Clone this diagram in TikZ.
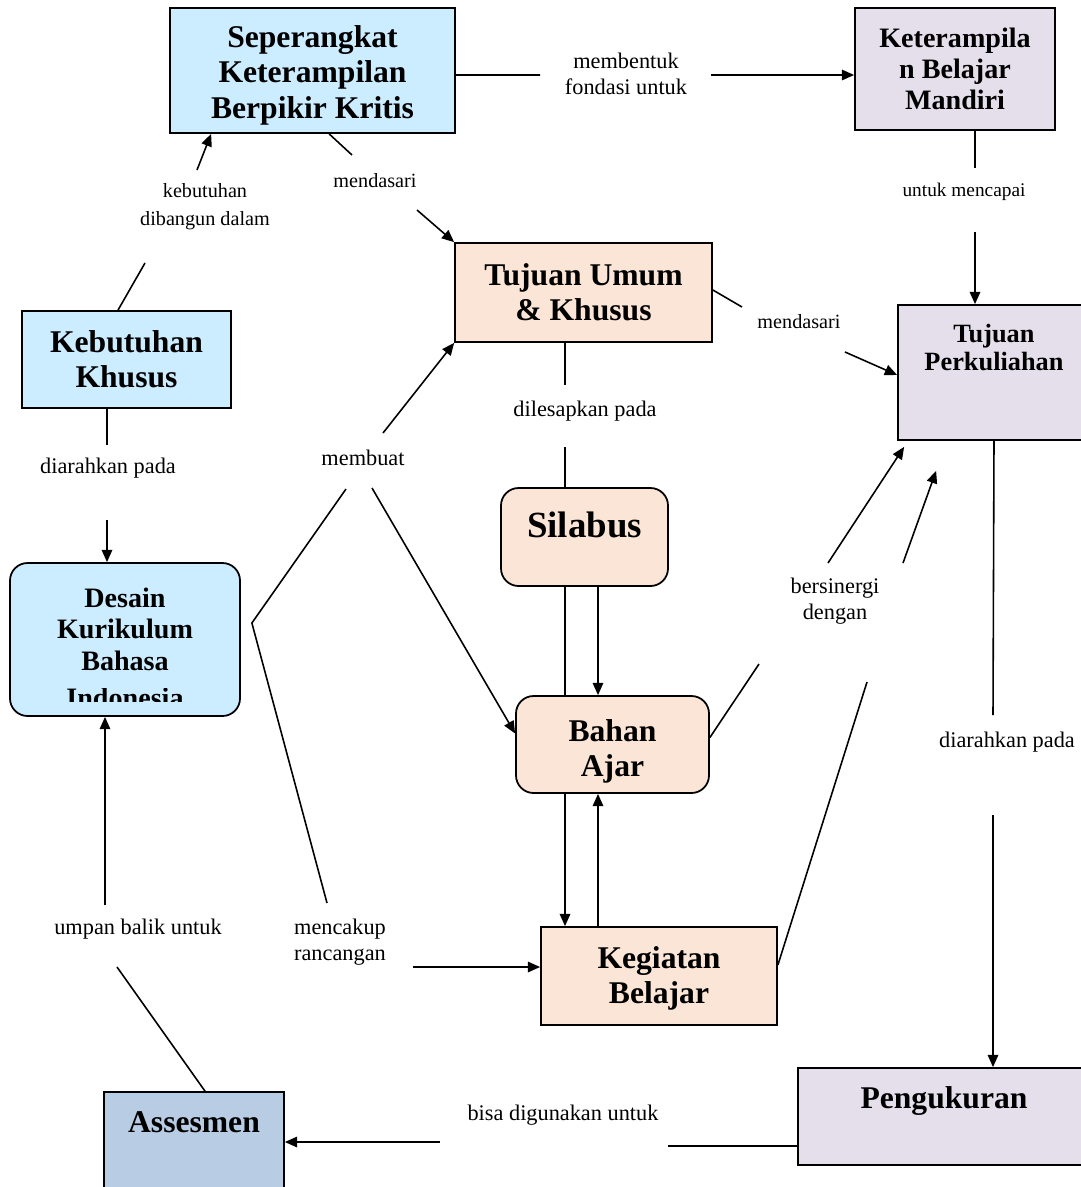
\documentclass[tikz,border=0pt]{standalone}
\usepackage{fontspec}
\setmainfont{Liberation Serif}
\usepackage{trimclip}
\usetikzlibrary{arrows.meta,calc}
\definecolor{boxblue}{HTML}{CCECFF}
\definecolor{boxpeach}{HTML}{FBE5D6}
\definecolor{boxlav}{HTML}{E5DFEC}
\definecolor{boxsteel}{HTML}{B8CCE4}
\newcommand{\sink}[1]{\rule[-#1]{0pt}{#1}}

\begin{document}
\begin{tikzpicture}[x=0.02cm, y=-0.02cm,
  box/.style={draw, line width=1pt, align=center, inner sep=2pt,
    font=\bfseries\fontsize{18}{20}\selectfont},
  wh/.style 2 args={minimum width=#1*0.02cm, minimum height=#2*0.02cm},
  blbox/.style={box, fill=boxblue},
  pcbox/.style={box, fill=boxpeach},
  lvbox/.style={box, fill=boxlav},
  asbox/.style={box, fill=boxsteel},
  rnd/.style={rounded corners=10pt},
  lbl/.style={align=center, inner sep=1pt, font=\fontsize{12.7}{15}\selectfont},
  lbls/.style={lbl, font=\fontsize{11.5}{16}\selectfont},
  link/.style={line width=0.9pt},
  arr/.style={link, -{Triangle[length=7pt, width=6pt]}}]
\useasboundingbox (0,0) rectangle (1081,1187);
% ----- boxes -----
\node[blbox, wh={285}{125}] (skp) at (312.5,70.5)
  {\rule{0pt}{18pt}Seperangkat\\Keterampilan\\Berpikir Kritis};
\node[lvbox, wh={200}{122}, font=\bfseries\fontsize{16}{17.6}\selectfont] (kbm)
  at (955,69) {Keterampila\\n Belajar\\Mandiri};
\node[pcbox, wh={257}{99}] (tuk) at (583.5,292.5) {Tujuan Umum\\\& Khusus};
\node[lvbox, wh={192}{135}, font=\bfseries\fontsize{15}{16}\selectfont] (tp)
  at (994,372.5) {Tujuan\\Perkuliahan\sink{29pt}};
\node[blbox, wh={209}{97}] (kk) at (126.5,359.5) {Kebutuhan\\Khusus};
\node[blbox, rnd, wh={230}{153}, font=\bfseries\fontsize{16}{18}\selectfont] (dkbi)
  at (125,639.5)
  {\rule{0pt}{17pt}Desain\\Kurikulum\\Bahasa\\\clipbox{0pt 3.4pt 0pt 0pt}{Indonesia}};
\node[pcbox, rnd, wh={167}{98}, font=\bfseries\fontsize{21}{23}\selectfont] (sil)
  at (584.5,537) {Silabus\sink{14pt}};
\node[pcbox, rnd, wh={193}{97}] (baj) at (612.5,744.5) {\rule{0pt}{20pt}Bahan\\Ajar};
\node[pcbox, wh={236}{98}] (keg) at (659,976) {\rule{0pt}{15pt}Kegiatan\\Belajar};
\node[lvbox, wh={292}{97}] (pgk) at (944,1116.5) {Pengukuran\sink{22pt}};
\node[asbox, wh={180}{100}] (ass) at (194,1142) {Assesmen\sink{23pt}};
% ----- link texts -----
\node[lbl] (l1) at (626,74) {membentuk\\fondasi untuk};
\node[lbl, font=\fontsize{11}{13}\selectfont] (l2) at (964,192) {untuk mencapai};
\node[lbls] (l3) at (205,207) {kebutuhan\\dibangun dalam};
\node[lbls] (l4) at (375,181) {mendasari};
\node[lbls] (l5) at (799,322) {mendasari};
\node[lbl] (l6) at (585,411) {dilesapkan pada};
\node[lbl] (l7) at (108,468) {diarahkan pada};
\node[lbl] (l8) at (363,458) {membuat};
\node[lbl, align=left] (l9) at (340,942) {mencakup\\rancangan};
\node[lbl] (l10) at (835,601) {bersinergi\\dengan};
\node[lbl] (l11) at (1007,742) {diarahkan pada};
\node[lbl] (l12) at (563,1115) {bisa digunakan untuk};
\node[lbl] (l13) at (138,929) {umpan balik untuk};
% ----- break points beside the texts -----
\coordinate (m1) at (540,75);  \coordinate (m2) at (711,75);
\coordinate (u1) at (975,168); \coordinate (u2) at (975,232);
\coordinate (k1) at (145,263); \coordinate (k2) at (197,170);
\coordinate (d1) at (352,155); \coordinate (d2) at (417,210);
\coordinate (d3) at (742,307); \coordinate (d4) at (845,352);
\coordinate (s1) at (565,385); \coordinate (s2) at (565,447);
\coordinate (e1) at (107,445); \coordinate (e2) at (107,520);
\coordinate (b0) at ($(dkbi.east)+(11,-16.5)$);
\coordinate (b1) at (346,489); \coordinate (b2) at (383,433);
\coordinate (b3) at (372,488); \coordinate (b4) at (327,903);
\coordinate (b5) at (413,967);
\coordinate (g1) at (759,664); \coordinate (g2) at (828,563);
\coordinate (g3) at (867,682); \coordinate (g4) at (903,563);
\coordinate (g5) at ($(tp.south west)+(39,30)$);
\coordinate (r1) at (993,715); \coordinate (r2) at (993,815);
\coordinate (p1) at (668,1146); \coordinate (p2) at (440,1142);
\coordinate (f1) at (117,967); \coordinate (f2) at (105,905);
% ----- links -----
\draw[link] ($(skp.east)+(0,4.5)$) -- (m1);
\draw[arr] (m2) -- ($(kbm.west)+(0,6)$);
\draw[link] ($(kbm.south)+(20,0)$) -- (u1);
\draw[arr] (u2) -- ($(tp.north)+(-19,0)$);
\draw[link] ($(kk.north)+(-8.5,0)$) -- (k1);
\draw[arr] (k2) -- ($(skp.south west)+(42,0)$);
\draw[link] ($(skp.south west)+(160,0)$) -- (d1);
\draw[arr] (d2) -- (tuk.north west);
\draw[link] ($(tuk.east)+(0,-2.5)$) -- (d3);
\draw[arr] (d4) -- ($(tp.west)+(0,2.5)$);
\draw[link] ($(tuk.south)+(-18.5,0)$) -- (s1);
\draw[link] (s2) -- ($(sil.north)+(-19.5,0)$);
\draw[link] ($(kk.south)+(-19.5,0)$) -- (e1);
\draw[arr] (e2) -- ($(dkbi.north)+(-18,0)$);
\draw[link] (b1) -- (b0) -- (b4);
\draw[arr] (b2) -- (tuk.south west);
\draw[arr] (b3) -- ($(baj.west)+(0,-11)$);
\draw[arr] (b5) -- ($(keg.west)+(0,-9)$);
\draw[link] ($(sil.south)+(-19.5,0)$) -- ($(baj.north)+(-47.5,0)$);
\draw[arr] ($(sil.south)+(13.5,0)$) -- ($(baj.north)+(-14.5,0)$);
\draw[arr] ($(baj.south)+(-47.5,0)$) -- ($(keg.north)+(-94,0)$);
\draw[arr] ($(keg.north)+(-61,0)$) -- ($(baj.south)+(-14.5,0)$);
\draw[link] ($(baj.east)+(0,-7)$) -- (g1);
\draw[arr] (g2) -- ($(tp.south west)+(7,6)$);
\draw[link] ($(keg.east)+(0,-11)$) -- (g3);
\draw[arr] (g4) -- (g5);
\draw[link] (tp.south) -- (r1);
\draw[arr] (r2) -- ($(pgk.north)+(49,0)$);
\draw[link] ($(pgk.west)+(0,29.5)$) -- (p1);
\draw[arr] (p2) -- (ass.east);
\draw[link] ($(ass.north)+(11,0)$) -- (f1);
\draw[arr] (f2) -- ($(dkbi.south)+(-20,0)$);
\end{tikzpicture}
\end{document}
